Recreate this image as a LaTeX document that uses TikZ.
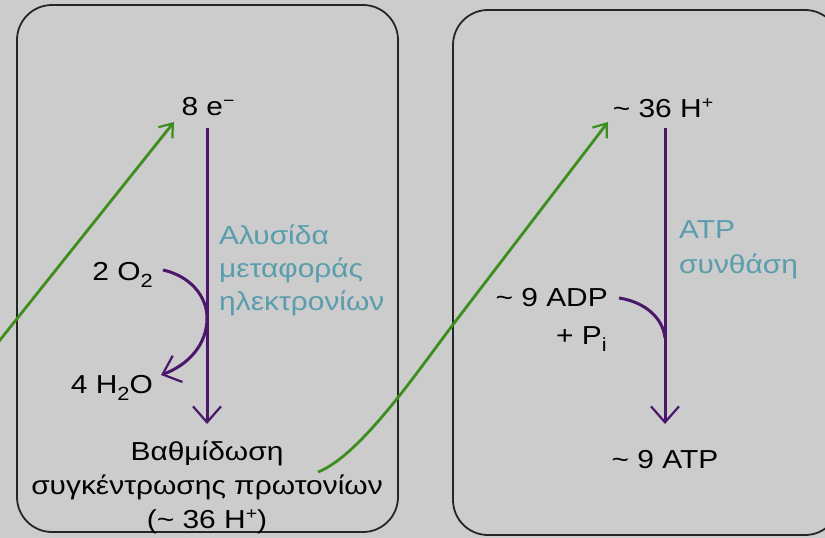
\documentclass[tikz,border=0pt]{standalone}
\usepackage{fontspec}
\setmainfont{Liberation Sans}[FakeStretch=1.15]
\usetikzlibrary{arrows.meta}
\definecolor{bg}{HTML}{CCCCCC}
\definecolor{purp}{HTML}{4A176B}
\definecolor{grn}{HTML}{3C8E1E}
\definecolor{teal2}{HTML}{5A9DAD}
\newcommand\mysub[1]{\raisebox{-7pt}{\fontsize{19}{19}\selectfont #1}}
\newcommand\mysup[1]{\raisebox{9pt}{\fontsize{17}{17}\selectfont #1}}
\tikzset{
  boxframe/.style={draw=black!85, line width=1.8pt, rounded corners=35pt},
  txt/.style={inner sep=0pt, font=\fontsize{26}{30}\selectfont, text=black},
  lbl/.style={inner sep=0pt, font=\fontsize{26}{33}\selectfont, text=teal2, align=left},
  parrow/.style={draw=purp, line width=3pt, -{Straight Barb[length=16pt,width=28pt,line width=2.2pt]}},
  pcurve/.style={draw=purp, line width=3pt},
  garrow/.style={draw=grn, line width=2.8pt, -{Straight Barb[length=12pt,width=18pt,line width=2.2pt]}}
}
\begin{document}
\begin{tikzpicture}[x=1pt,y=-1pt]
\useasboundingbox (0,0) rectangle (825,538);
\fill[bg] (0,0) rectangle (825,538);
\begin{scope}
\clip (0,0) rectangle (825,538);
\draw[boxframe] (17,5) rectangle (398,532);
\draw[boxframe] (453,10) rectangle (840,535);

% left panel texts
\node[txt] (e) at (208,107) {8 e\mysup{−}};
\node[lbl, anchor=west] (chain) at (219,270) {Αλυσίδα\\μεταφοράς\\ηλεκτρονίων};
\node[txt, anchor=east] (o2) at (153,275) {2 O\mysub{2}};
\node[txt, anchor=east] (h2o) at (153,388) {4 H\mysub{2}O};
\node[txt, align=center, font=\fontsize{26}{34}\selectfont] (grad) at (207,487) {Βαθμίδωση\\συγκέντρωσης πρωτονίων\\(\textasciitilde{} 36 H\mysup{+})};

% right panel texts
\node[txt] (h36) at (663,108) {\textasciitilde{} 36 H\mysup{+}};
\node[lbl, anchor=west, font=\fontsize{26}{35}\selectfont] (synth) at (679,250) {ATP\\συνθάση};
\node[txt, anchor=east] (adp) at (608,298) {\textasciitilde{} 9 ADP};
\node[txt, anchor=east] (pi) at (607,339) {+ P\mysub{i}};
\node[txt] (atp) at (665,460) {\textasciitilde{} 9 ATP};

% purple connectors
\coordinate (a1) at (207,128);
\coordinate (a2) at (207,424);
\draw[parrow] (a1) -- (a2);
\coordinate (b1) at (665,128);
\coordinate (b2) at (665,424);
\draw[parrow] (b1) -- (b2);
\coordinate (o2s) at (163,270);
\coordinate (h2oe) at (161,375);
\draw[parrow] (o2s) .. controls (190,276) and (207,296) .. (207,318) .. controls (207,345) and (188,365) .. (h2oe);
\coordinate (adps) at (619,298);
\draw[pcurve] (adps) .. controls (645,302) and (663,318) .. (665,338);

% green connectors
\coordinate (g1) at (-12,355);
\coordinate (g1e) at (174,122);
\draw[garrow] (g1) -- (g1e);
\coordinate (g2s) at (318,472);
\coordinate (g2m) at (455,322);
\coordinate (g2e) at (608,122);
\draw[garrow] (g2s) .. controls (362,455) and (424,362) .. (g2m) -- (g2e);
\end{scope}
\end{tikzpicture}
\end{document}
